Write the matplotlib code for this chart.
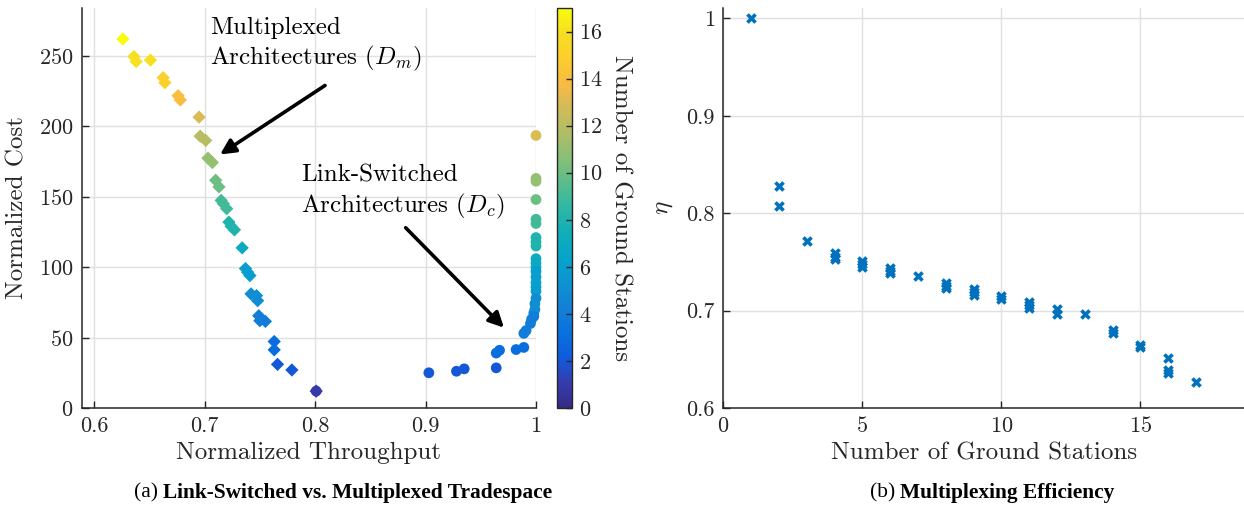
import numpy as np
import matplotlib
matplotlib.use("Agg")
import matplotlib.pyplot as plt
from matplotlib.colors import LinearSegmentedColormap

# ---------------- data ----------------
# Multiplexed architectures (diamonds): throughput, cost, number of ground stations
mux_throughput = [0.626, 0.636, 0.638, 0.651, 0.6625, 0.664, 0.676, 0.678, 0.695,
                  0.696, 0.701, 0.703, 0.707, 0.710, 0.713, 0.715, 0.717, 0.720,
                  0.722, 0.724, 0.727, 0.734, 0.737, 0.739, 0.741, 0.742, 0.747,
                  0.748, 0.749, 0.750, 0.755, 0.763, 0.763, 0.766, 0.779, 0.801]
mux_cost = [262, 249.5, 246, 247, 234.5, 231, 221.7, 218.7, 206.5,
            193, 190, 177.4, 174.3, 161.7, 157, 147.4, 145, 141.5,
            132, 129, 126.5, 113.7, 99, 96.4, 94, 81, 79.8,
            76.2, 65.5, 62, 61.5, 47.2, 41.3, 31, 27, 12]
mux_stations = [17, 16, 16, 16, 15, 15, 14, 14, 13,
                12, 12, 11, 11, 10, 10, 9, 9, 9,
                8, 8, 8, 7, 6, 6, 6, 5, 5,
                5, 4, 4, 4, 3, 3, 2, 2, 1]

# Link-switched architectures (circles)
ls_throughput = [1.0, 1.0, 1.0, 1.0, 1.0, 1.0, 1.0, 1.0, 1.0,
                 1.0, 1.0, 1.0, 1.0, 1.0, 1.0, 1.0, 1.0, 1.0,
                 0.999, 0.999, 0.998, 0.998, 0.996, 0.995, 0.991, 0.989,
                 0.989, 0.982, 0.967, 0.964, 0.964, 0.935, 0.928, 0.903, 0.801]
ls_cost = [193.5, 163, 161, 148, 134, 131, 121, 118, 115,
           106, 103, 100, 97, 93, 89, 86, 83, 78,
           74, 70, 67.5, 65, 63, 60, 55, 53,
           43, 41.5, 41, 39, 28.5, 27.8, 26.1, 25, 12]
ls_stations = [13, 11, 11, 10, 9, 9, 8, 8, 8,
               7, 7, 7, 6, 6, 6, 6, 6, 5,
               5, 5, 5, 4, 4, 4, 4, 4,
               3, 3, 3, 3, 2, 2, 2, 2, 1]

# Multiplexing efficiency
eff_stations = [1, 2, 2, 3, 4, 4, 4, 5, 5, 5, 6, 6, 6, 7, 8, 8, 8, 9, 9, 9,
                10, 10, 11, 11, 11, 12, 12, 13, 14, 14, 15, 15, 16, 16, 16, 17]
eff_eta = [1.0, 0.828, 0.807, 0.771, 0.759, 0.755, 0.7525, 0.7505, 0.7475, 0.7447,
           0.7437, 0.7406, 0.739, 0.7355, 0.7287, 0.7253, 0.7233, 0.7226, 0.7192, 0.716,
           0.715, 0.7117, 0.709, 0.7055, 0.703, 0.702, 0.6964, 0.696, 0.680, 0.6766,
           0.665, 0.6623, 0.6514, 0.639, 0.6357, 0.6266]

# ---------------- style ----------------
plt.rcParams['font.family'] = ['cmr10', 'DejaVu Serif']
plt.rcParams['mathtext.fontset'] = 'cm'
plt.rcParams['axes.formatter.use_mathtext'] = True

parula_anchors = [
    (0.2081, 0.1663, 0.5292), (0.2081, 0.2386, 0.6771), (0.0591, 0.3598, 0.8683),
    (0.0329, 0.4430, 0.8720), (0.0779, 0.5040, 0.8384), (0.0488, 0.5772, 0.8228),
    (0.0231, 0.6418, 0.7913), (0.0590, 0.6838, 0.7254), (0.1801, 0.7177, 0.6424),
    (0.3482, 0.7424, 0.5473), (0.5300, 0.7491, 0.4661), (0.6834, 0.7435, 0.4044),
    (0.8185, 0.7327, 0.3498), (0.9739, 0.7314, 0.2666), (0.9880, 0.8066, 0.1794),
    (0.9626, 0.8705, 0.1309), (0.9763, 0.9831, 0.0538)]
parula = LinearSegmentedColormap.from_list('parula', parula_anchors, N=256)

W, H = 1244, 507
fig = plt.figure(figsize=(W / 100, H / 100), dpi=100)

def fx(px):
    return px / W

def fy(py):
    return 1 - py / H

axis_col = (0.15, 0.15, 0.15)
grid_col = (0.88, 0.88, 0.88)

def style_axes(ax):
    for s in ['top', 'right']:
        ax.spines[s].set_visible(False)
    for s in ['left', 'bottom']:
        ax.spines[s].set_color(axis_col)
        ax.spines[s].set_linewidth(1.1)
    ax.tick_params(direction='in', length=5, width=1.0, colors=axis_col,
                   labelsize=16, pad=6)
    ax.grid(True, color=grid_col, linewidth=1.0)
    ax.set_axisbelow(True)

# ---------------- left axes ----------------
axL = fig.add_axes([fx(82), fy(408), fx(536) - fx(82), fy(8) - fy(408)])
style_axes(axL)
sc = axL.scatter(mux_throughput, mux_cost, c=mux_stations, cmap=parula, vmin=0, vmax=17,
                 marker='D', s=46, linewidths=0, clip_on=False, zorder=3)
axL.scatter(ls_throughput, ls_cost, c=ls_stations, cmap=parula, vmin=0, vmax=17,
            marker='o', s=60, linewidths=0, clip_on=False, zorder=3)
axL.set_xlim(0.589, 1.0)
axL.set_ylim(0, 284)
axL.set_xticks([0.6, 0.7, 0.8, 0.9, 1.0])
axL.set_xticklabels(['0.6', '0.7', '0.8', '0.9', '1'])
axL.set_yticks([0, 50, 100, 150, 200, 250])
axL.set_xlabel('Normalized Throughput', fontsize=18, color=axis_col, labelpad=4)
axL.set_ylabel('Normalized Cost', fontsize=18, color=axis_col, labelpad=8)

axL.text(0.705, 278, 'Multiplexed\nArchitectures ($D_m$)', fontsize=18, va='top',
         ha='left', linespacing=1.25, color='black')
axL.annotate('', xy=(0.714, 180), xytext=(0.809, 229),
             arrowprops=dict(arrowstyle='-|>,head_length=0.9,head_width=0.45',
                             color='black', lw=2.6, shrinkA=0, shrinkB=0))
axL.text(0.787, 173, 'Link-Switched\nArchitectures ($D_c$)', fontsize=18, va='top',
         ha='left', linespacing=1.25, color='black')
axL.annotate('', xy=(0.971, 57), xytext=(0.882, 128),
             arrowprops=dict(arrowstyle='-|>,head_length=0.9,head_width=0.45',
                             color='black', lw=2.6, shrinkA=0, shrinkB=0))

# colorbar
cax = fig.add_axes([fx(557), fy(408), fx(572) - fx(557), fy(8) - fy(408)])
cb = fig.colorbar(sc, cax=cax)
cb.set_ticks(list(range(0, 17, 2)))
cb.outline.set_edgecolor(axis_col)
cb.outline.set_linewidth(1.0)
cax.tick_params(direction='in', length=4, width=1.0, colors=axis_col, labelsize=16, pad=5)
cb.set_label('Number of Ground Stations', fontsize=18, color=axis_col, rotation=270,
             labelpad=21)

# ---------------- right axes ----------------
axR = fig.add_axes([fx(723.3), fy(408), 1 - fx(723.3), fy(8) - fy(408)])
style_axes(axR)
axR.scatter(eff_stations, eff_eta, marker='x', s=34, linewidths=2.6,
            color=(0.0, 0.447, 0.741), zorder=3, clip_on=False)
axR.set_xlim(0, 18.73)
axR.set_ylim(0.6, 1.0106)
axR.set_xticks([0, 5, 10, 15])
axR.set_yticks([0.6, 0.7, 0.8, 0.9, 1.0])
axR.set_yticklabels(['0.6', '0.7', '0.8', '0.9', '1'])
axR.set_xlabel('Number of Ground Stations', fontsize=18, color=axis_col, labelpad=4)
axR.set_ylabel(r'$\eta$', fontsize=18, color=axis_col, labelpad=8)

# ---------------- captions ----------------
fig.canvas.draw()
renderer = fig.canvas.get_renderer()

def caption(cx_px, cy_px, prefix, bold_text):
    t1 = fig.text(0, fy(cy_px), prefix, fontsize=15.4, family='Liberation Serif',
                  va='center', ha='left')
    t2 = fig.text(0, fy(cy_px), bold_text, fontsize=15.4, family='Liberation Serif',
                  weight='bold', va='center', ha='left')
    w1 = t1.get_window_extent(renderer).width
    w2 = t2.get_window_extent(renderer).width
    x0 = cx_px - (w1 + w2) / 2
    t1.set_x(fx(x0))
    t2.set_x(fx(x0 + w1))

caption(343, 493, '(a) ', 'Link-Switched vs. Multiplexed Tradespace')
caption(992, 493, '(b) ', 'Multiplexing Efficiency')

fig.savefig('out.png', dpi=100)
